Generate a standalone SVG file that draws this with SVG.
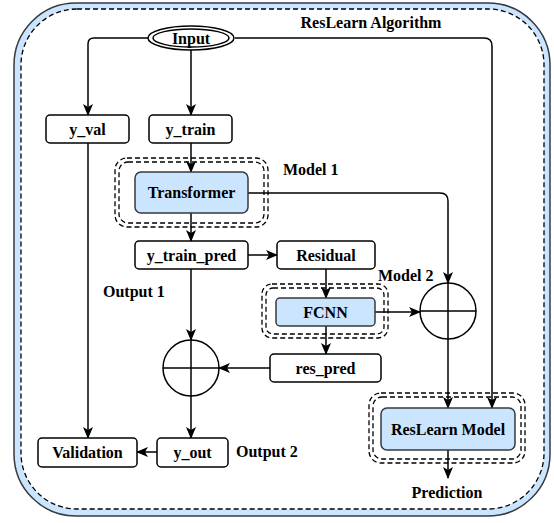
<svg xmlns="http://www.w3.org/2000/svg" width="554" height="523" viewBox="0 0 554 523">
<defs>
<marker id="arr" viewBox="0 0 12 10" refX="11" refY="5" markerWidth="12" markerHeight="10" markerUnits="userSpaceOnUse" orient="auto">
<path d="M0,0 L12,5 L0,10 L3,5 z" fill="#000"/>
</marker>
</defs>
<style>
text{font-family:"Liberation Serif","Times New Roman",serif;font-weight:bold;font-size:16px;fill:#000}
.c{text-anchor:middle}
.box{fill:#fff;stroke:#000;stroke-width:1.5}
.blue{fill:#cce5ff;stroke:#36393d;stroke-width:1.5}
.dash{fill:none;stroke:#000;stroke-width:1.3;stroke-dasharray:5 3}
.ln{fill:none;stroke:#000;stroke-width:1.5}
.arr{marker-end:url(#arr)}
</style>
<g id="container">
<rect x="14" y="3" width="536" height="513" rx="62" fill="#cce5ff" stroke="#36393d" stroke-width="1.5"/>
<rect x="21" y="9" width="523" height="500" rx="56" fill="#fff" stroke="#000" stroke-width="1.3" stroke-dasharray="5 3"/>
<text x="371" y="28" class="c">ResLearn Algorithm</text>
</g>
<g id="connectors">
<path class="ln arr" d="M148,38 H94 Q88,38 88,44 V115"/>
<path class="ln arr" d="M191,50 V115"/>
<path class="ln arr" d="M235,38 H484 Q492,38 492,46 V408"/>
<path class="ln arr" d="M191,143 V172"/>
<path class="ln arr" d="M248,193 H440 Q448,193 448,201 V283"/>
<path class="ln arr" d="M191,213 V241"/>
<path class="ln arr" d="M248,255 H277"/>
<path class="ln arr" d="M326,269 V298"/>
<path class="ln arr" d="M375,312 H420"/>
<path class="ln arr" d="M326,326 V354"/>
<path class="ln arr" d="M270,368 H219"/>
<path class="ln arr" d="M191,269 V340"/>
<path class="ln arr" d="M191,396 V438"/>
<path class="ln arr" d="M157,452 H137"/>
<path class="ln arr" d="M88,143 V438"/>
<path class="ln arr" d="M448,339 V408"/>
<path class="ln arr" d="M448,450 V478"/>
</g>
<g id="input">
<ellipse cx="191" cy="38" rx="43" ry="12" class="box"/>
<ellipse cx="191" cy="38" rx="38" ry="9" class="box"/>
<text x="191" y="43.500" class="c">Input</text>
</g>
<g id="y_val">
<rect x="46" y="115" width="83" height="28" rx="4" class="box"/>
<text x="87.500" y="134.500" class="c">y_val</text>
</g>
<g id="y_train">
<rect x="149" y="115" width="83" height="28" rx="4" class="box"/>
<text x="190.500" y="134.500" class="c">y_train</text>
</g>
<g id="model1">
<rect x="115" y="158" width="153" height="69" rx="12" class="dash"/>
<rect x="119" y="162" width="145" height="61" rx="9" class="dash"/>
<rect x="135" y="172" width="113" height="41" rx="6" class="blue"/>
<text x="191.500" y="198" class="c">Transformer</text>
<text x="283" y="175">Model 1</text>
</g>
<g id="y_train_pred">
<rect x="135" y="241" width="113" height="28" rx="4" class="box"/>
<text x="191.500" y="260.500" class="c">y_train_pred</text>
</g>
<g id="residual">
<rect x="277" y="241" width="98" height="28" rx="4" class="box"/>
<text x="326" y="260.500" class="c">Residual</text>
</g>
<g id="model2">
<rect x="262" y="284" width="126" height="54" rx="10" class="dash"/>
<rect x="266" y="288" width="118" height="46" rx="7" class="dash"/>
<rect x="276" y="298" width="99" height="28" rx="4" class="blue"/>
<text x="325.500" y="317.500" class="c">FCNN</text>
<text x="378" y="281">Model 2</text>
</g>
<g id="sum2">
<circle cx="448" cy="311" r="28" class="box"/>
<path class="ln" d="M420,311 H476 M448,283 V339"/>
</g>
<g id="res_pred">
<rect x="270" y="354" width="111" height="28" rx="4" class="box"/>
<text x="325.500" y="373.500" class="c">res_pred</text>
</g>
<g id="sum1">
<circle cx="191" cy="368" r="28" class="box"/>
<path class="ln" d="M163,368 H219 M191,340 V396"/>
</g>
<g id="output1">
<text x="103" y="297">Output 1</text>
</g>
<g id="y_out">
<rect x="157" y="438" width="71" height="29" rx="4" class="box"/>
<text x="192.500" y="458" class="c">y_out</text>
<text x="236" y="457">Output 2</text>
</g>
<g id="validation">
<rect x="38" y="438" width="99" height="29" rx="4" class="box"/>
<text x="87.500" y="458" class="c">Validation</text>
</g>
<g id="reslearn_model">
<rect x="369" y="393" width="156" height="70" rx="12" class="dash"/>
<rect x="373" y="397" width="148" height="62" rx="9" class="dash"/>
<rect x="381" y="408" width="134" height="42" rx="6" class="blue"/>
<text x="448" y="435" class="c">ResLearn Model</text>
</g>
<g id="prediction">
<text x="447" y="498" class="c">Prediction</text>
</g>
</svg>
